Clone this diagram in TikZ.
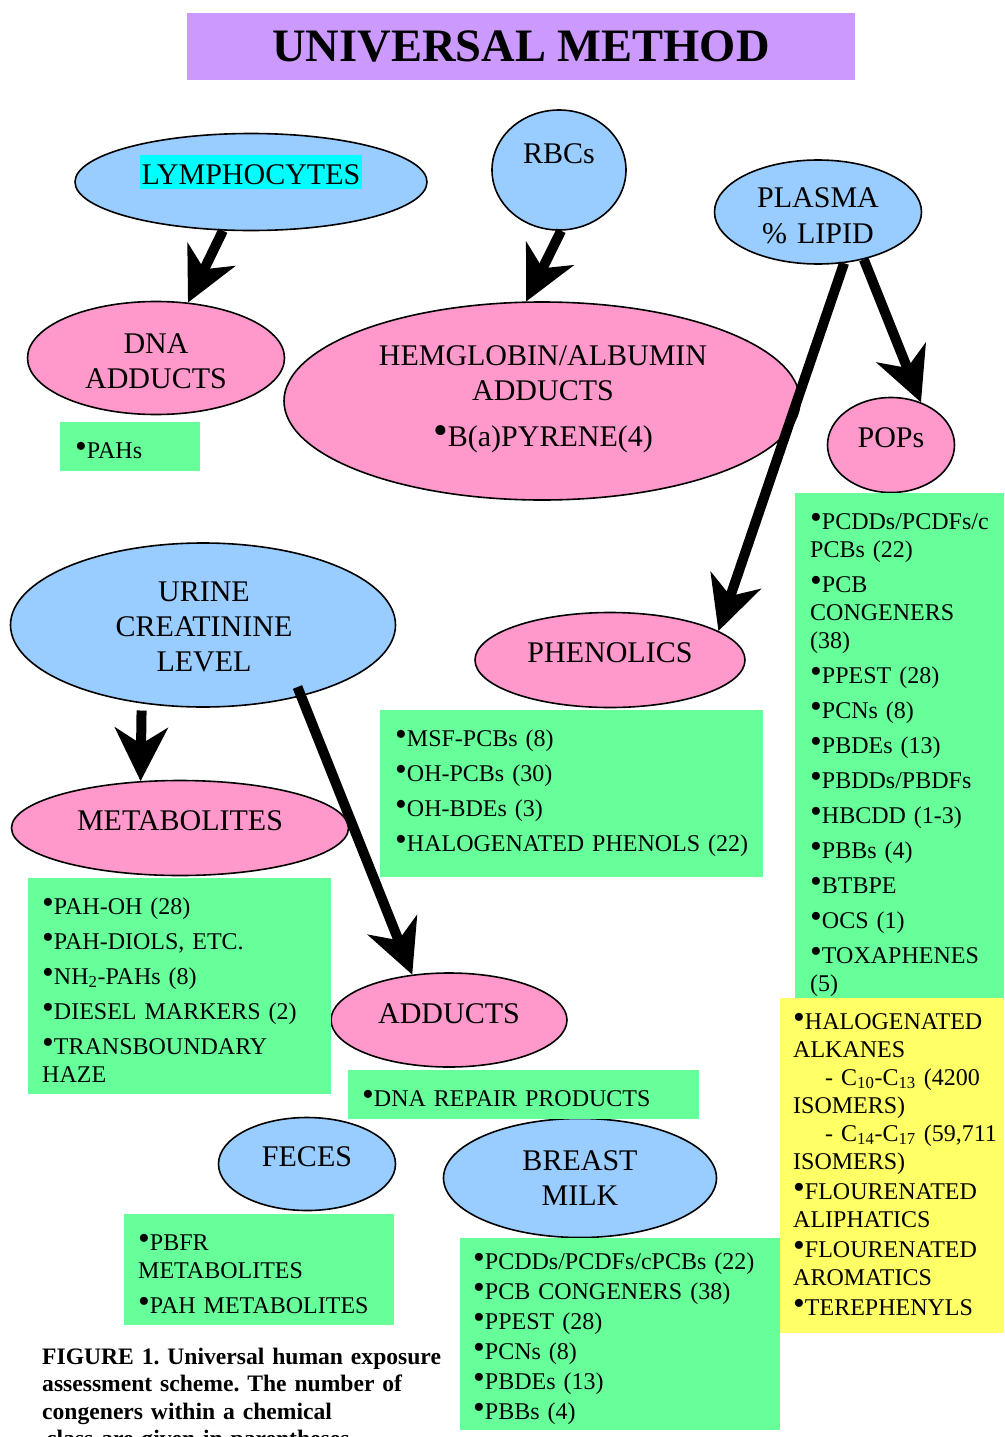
\documentclass[tikz,border=0pt]{standalone}
\usepackage{fontspec}
\setmainfont{Liberation Serif}
\usetikzlibrary{shapes.geometric,arrows.meta}
\definecolor{cblue}{HTML}{99CCFF}
\definecolor{cpink}{HTML}{FF99CC}
\definecolor{cgreen}{HTML}{66FF99}
\definecolor{cyellow}{HTML}{FFFF66}
\definecolor{cpurple}{HTML}{CC99FF}
\definecolor{ccyan}{HTML}{00FFFF}
\newcommand\bul{\raisebox{0.04em}[0pt][0pt]{\scalebox{1.4}{•}}}
\frenchspacing
\tikzset{
  ell/.style={ellipse, draw=black, line width=1.6pt, inner sep=0pt},
  bl/.style={ell, fill=cblue},
  pk/.style={ell, fill=cpink},
  boxg/.style={rectangle, fill=cgreen, inner sep=0pt, anchor=north west},
  boxy/.style={rectangle, fill=cyellow, inner sep=0pt, anchor=north west},
  elabel/.style={font=\fontsize{30}{35}\selectfont, anchor=base, inner sep=0pt, align=center, text width=500pt},
  gtext/.style={font=\fontsize{24}{28}\selectfont, anchor=base west, inner sep=0pt, align=left, text width=420pt},
  conn/.style={line width=10pt, -{Stealth[length=54pt,width=54pt,inset=17pt,line width=0pt]}}
}
\begin{document}
\begin{tikzpicture}[x=1pt,y=-1pt]
\useasboundingbox (0,0) rectangle (1004,1437);
\clip (0,0) rectangle (1004,1437);
\fill[white] (0,0) rectangle (1004,1437);

% title
\node[fill=cpurple, inner sep=0pt, minimum width=668, minimum height=67, anchor=north west] (titlebox) at (187,13) {};
\node[font=\bfseries\fontsize{46.5}{50}\selectfont, anchor=base, inner sep=0pt] (title) at (521,62) {UNIVERSAL METHOD};

% ellipses
\node[bl, minimum width=352, minimum height=97] (lym) at (251,182) {};
\node[bl, minimum width=134, minimum height=120] (rbc) at (559,170) {};
\node[bl, minimum width=207, minimum height=104] (pla) at (818,212) {};
\node[pk, minimum width=257, minimum height=113] (dna) at (156,358) {};
\node[pk, minimum width=516, minimum height=198] (hem) at (542,401) {};
\node[pk, minimum width=127, minimum height=95] (pop) at (891,445) {};
\node[bl, minimum width=385, minimum height=164] (uri) at (203,625) {};
\node[pk, minimum width=270, minimum height=95] (phe) at (610,660) {};
\node[pk, minimum width=337, minimum height=95] (met) at (180,828) {};
\node[pk, minimum width=236, minimum height=94] (add) at (449,1020) {};
\node[bl, minimum width=177, minimum height=93] (fec) at (307,1164) {};
\node[bl, minimum width=273, minimum height=119] (bre) at (580,1178) {};

% ellipse labels
\node[font=\fontsize{30}{35}\selectfont, anchor=base, inner sep=0pt, inner xsep=2pt, fill=ccyan, text height=29pt, text depth=5pt] (lymT) at (251,184) {LYMPHOCYTES};
\node[elabel] (rbcT) at (559,163) {RBCs};
\node[elabel, font=\fontsize{30}{36}\selectfont] (plaT) at (818,207) {PLASMA\\\% LIPID};
\node[elabel] (dnaT) at (156,353) {DNA\\ADDUCTS};
\node[elabel] (hemT) at (543,365) {HEMGLOBIN/ALBUMIN\\ADDUCTS\\[11pt]\bul B(a)PYRENE(4)};
\node[elabel] (popT) at (891,447) {POPs};
\node[elabel] (uriT) at (204,601) {URINE\\CREATININE\\LEVEL};
\node[elabel] (pheT) at (610,662) {PHENOLICS};
\node[elabel] (metT) at (180,830) {METABOLITES};
\node[elabel] (addT) at (449,1023) {ADDUCTS};
\node[elabel] (fecT) at (307,1166) {FECES};
\node[elabel] (breT) at (580,1170) {BREAST\\MILK};

% boxes
\node[boxg, minimum width=140, minimum height=49] (pahbox) at (60,422) {};
\node[boxg, minimum width=209, minimum height=507] (popbox) at (795,493) {};
\node[boxg, minimum width=383, minimum height=167] (phebox) at (380,710) {};
\node[boxg, minimum width=303, minimum height=216] (metbox) at (28,878) {};
\node[boxg, minimum width=351, minimum height=49] (dnabox) at (348,1070) {};
\node[boxg, minimum width=270, minimum height=111] (fecbox) at (124,1214) {};
\node[boxg, minimum width=320, minimum height=192] (brebox) at (460,1238) {};
\node[boxy, minimum width=224, minimum height=335] (yelbox) at (780,998) {};

% box texts
\node[gtext] (pahL) at (75,458) {\bul PAHs};
\node[gtext] (popL) at (810,529) {\bul PCDDs/PCDFs/c\\PCBs (22)\\[7pt]
\bul PCB\\CONGENERS\\(38)\\[7pt]
\bul PPEST (28)\\[7pt]
\bul PCNs (8)\\[7pt]
\bul PBDEs (13)\\[7pt]
\bul PBDDs/PBDFs\\[7pt]
\bul HBCDD (1-3)\\[7pt]
\bul PBBs (4)\\[7pt]
\bul BTBPE\\[7pt]
\bul OCS (1)\\[7pt]
\bul TOXAPHENES\\(5)};
\node[gtext] (pheL) at (395,746) {\bul MSF-PCBs (8)\\[7pt]
\bul OH-PCBs (30)\\[7pt]
\bul OH-BDEs (3)\\[7pt]
\bul HALOGENATED PHENOLS (22)};
\node[gtext] (metL) at (42,914) {\bul PAH-OH (28)\\[7pt]
\bul PAH-DIOLS, ETC.\\[7pt]
\bul NH\textsubscript{2}-PAHs (8)\\[7pt]
\bul DIESEL MARKERS (2)\\[7pt]
\bul TRANSBOUNDARY\\HAZE};
\node[gtext] (dnaL) at (362,1106) {\bul DNA REPAIR PRODUCTS};
\node[gtext] (fecL) at (138,1250) {\bul PBFR\\METABOLITES\\[7pt]
\bul PAH METABOLITES};
\node[gtext, font=\fontsize{24}{30}\selectfont] (breL) at (473,1269) {\bul PCDDs/PCDFs/cPCBs (22)\\
\bul PCB CONGENERS (38)\\
\bul PPEST (28)\\
\bul PCNs (8)\\
\bul PBDEs (13)\\
\bul PBBs (4)};
\node[gtext] (yelL) at (793,1029) {\bul HALOGENATED\\ALKANES\\
\hspace*{32pt}- C\textsubscript{10}-C\textsubscript{13} (4200\\ISOMERS)\\
\hspace*{32pt}- C\textsubscript{14}-C\textsubscript{17} (59,711\\ISOMERS)\\[2pt]
\bul FLOURENATED\\ALIPHATICS\\[2pt]
\bul FLOURENATED\\AROMATICS\\[2pt]
\bul TEREPHENYLS};

% caption
\node[font=\bfseries\fontsize{23.6}{27.5}\selectfont, anchor=base west, inner sep=0pt, align=left, text width=460pt] (cap) at (42,1364) {FIGURE 1. Universal human exposure\\assessment scheme. The number of\\congeners within a chemical\\\hspace*{4pt}class are given in parentheses.};

% connectors
\draw[conn] (lym.-120.6) -- (dna.60);
\draw[conn] (rbc.-88) -- (hem.99.8);
\draw[conn] (pla.-63.6) -- (phe.15.3);
\draw[conn] (pla.-46.9) -- (pop.55.8);
\draw[conn, shorten <=7pt] (uri.-128.6) -- (met.130.6);
\draw[conn, shorten <=-10pt] (uri.-36.1) -- (add.129.7);
\end{tikzpicture}
\end{document}
